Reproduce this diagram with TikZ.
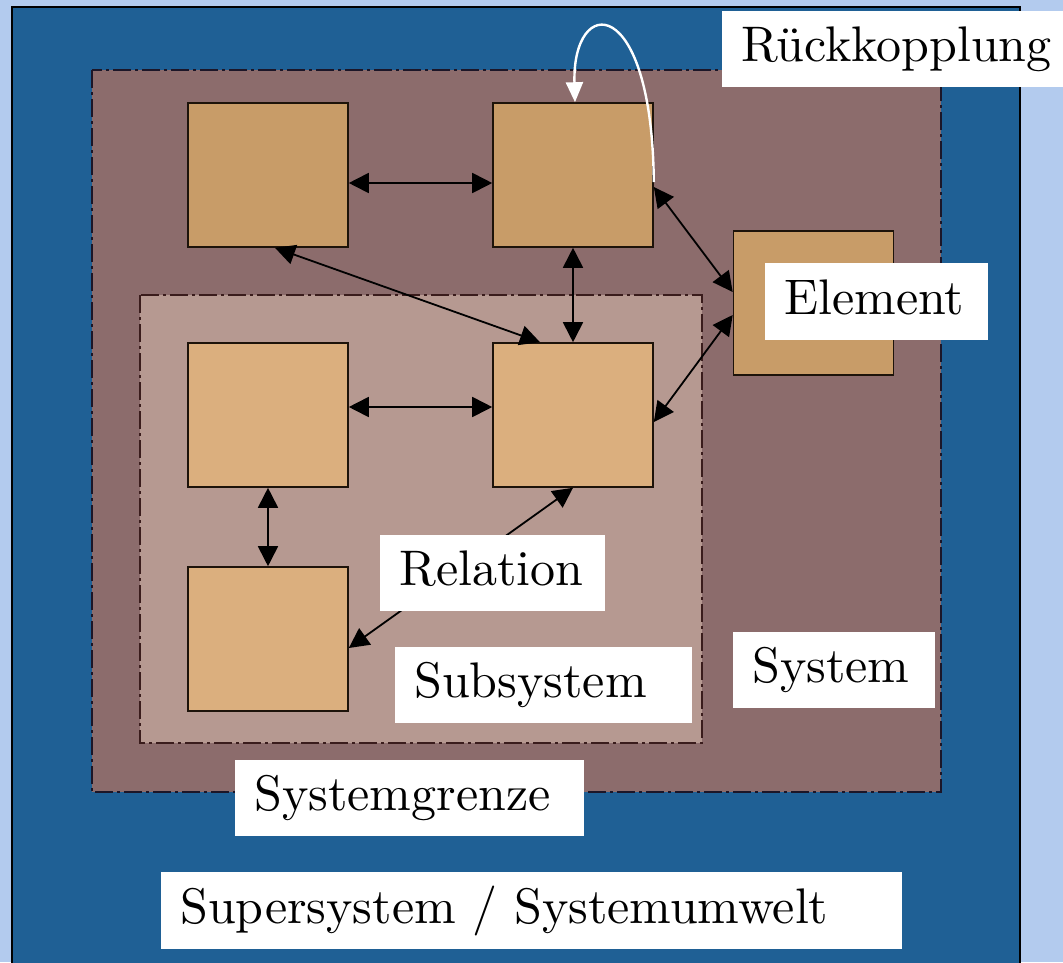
\documentclass[tikz,border=0pt]{standalone}
\usepackage{fontspec}
\newfontfamily\tagfont{lmroman10-regular.otf}
\usetikzlibrary{arrows.meta}

\definecolor{pagebg}{HTML}{B3CBEE}
\definecolor{envblue}{HTML}{1F6095}
\definecolor{sysfill}{HTML}{8C6C6C}
\definecolor{subfill}{HTML}{B69991}
\definecolor{elemdark}{HTML}{C89C68}
\definecolor{elemlight}{HTML}{DBAF7E}
\definecolor{bordersys}{HTML}{1C1628}
\definecolor{bordersub}{HTML}{3A1C1C}

\tikzset{
  elembox/.style={draw=black!85!brown, line width=1.6pt, minimum width=160pt, minimum height=144pt, inner sep=0pt},
  rel/.style={draw=black, line width=1.8pt, {Triangle[length=20pt,width=20pt]}-{Triangle[length=20pt,width=20pt]}},
  tag/.style={fill=white, anchor=north west, inner xsep=19pt, inner ysep=0pt,
    text height=35pt, text depth=10pt, font=\tagfont\fontsize{50}{58}\selectfont, text=black},
  borderline/.style={line width=2.4pt, dash pattern=on 18pt off 4pt on 3pt off 4pt},
}
% fixed-width, flush-left label text
\newcommand\tagtxt[2]{\makebox[#1][l]{#2}}

\begin{document}
\begin{tikzpicture}[x=1pt, y=-1pt]
  \useasboundingbox (0,0) rectangle (1063,962);
  % surroundings
  \fill[pagebg] (0,0) rectangle (1063,962);
  \draw[fill=envblue, draw=black, line width=1.2pt] (12,7) rectangle (1020,975);

  % system and subsystem regions
  \fill[sysfill] (92,70) rectangle (941,792);
  \draw[borderline, draw=bordersys] (92,70) rectangle (941,792);
  \fill[subfill] (140,295) rectangle (702,743);
  \draw[borderline, draw=bordersub] (140,295) rectangle (702,743);

  % elements
  \node[elembox, fill=elemdark]  (A) at (268,175)   {};
  \node[elembox, fill=elemdark]  (B) at (573,175)   {};
  \node[elembox, fill=elemdark]  (E) at (813.5,303) {};
  \node[elembox, fill=elemlight] (C) at (268,415)   {};
  \node[elembox, fill=elemlight] (D) at (573,415)   {};
  \node[elembox, fill=elemlight] (F) at (268,639)   {};

  % relations
  \draw[rel] ([yshift=-8pt]A.east) -- ([yshift=-8pt]B.west);
  \draw[rel] (B.south) -- (D.north);
  \draw[rel] ([xshift=7pt]A.south) -- ([xshift=-33pt]D.north);
  \draw[rel] ([yshift=-12pt]B.east) -- ([yshift=11pt]E.west);
  \draw[rel] ([yshift=-12pt]E.west) -- ([yshift=-7pt]D.east);
  \draw[rel] ([yshift=8pt]C.east) -- ([yshift=8pt]D.west);
  \draw[rel] (C.south) -- (F.north);
  \draw[rel] (D.south) -- ([yshift=-9pt]F.east);

  % feedback loop
  \coordinate (fbstart) at ([yshift=-7pt]B.east);
  \coordinate (fbend) at ([xshift=2pt]B.north);
  \draw[white, line width=2.4pt, -{Triangle[length=20pt,width=17pt]}]
    (fbstart) .. controls (652,-8) and (572,-6) .. (fbend);

  % labels (white boxes, text flush left)
  \node[tag, minimum height=76pt] (lfb)  at (722,11)  {\tagtxt{303pt}{Rückkopplung}};
  \node[tag, minimum height=77pt] (lel)  at (765,263) {\tagtxt{185pt}{Element}};
  \node[tag, minimum height=76pt] (lrel) at (380,535) {\tagtxt{187pt}{Relation}};
  \node[tag, minimum height=76pt] (lsub) at (395,647) {\tagtxt{259pt}{Subsystem}};
  \node[tag, minimum height=76pt] (lsys) at (733,632) {\tagtxt{164pt}{System}};
  \node[tag, minimum height=76pt] (lgr)  at (235,760) {\tagtxt{311pt}{Systemgrenze}};
  \node[tag, minimum height=77pt] (lenv) at (161,872) {\tagtxt{703pt}{Supersystem / Systemumwelt}};
\end{tikzpicture}
\end{document}
